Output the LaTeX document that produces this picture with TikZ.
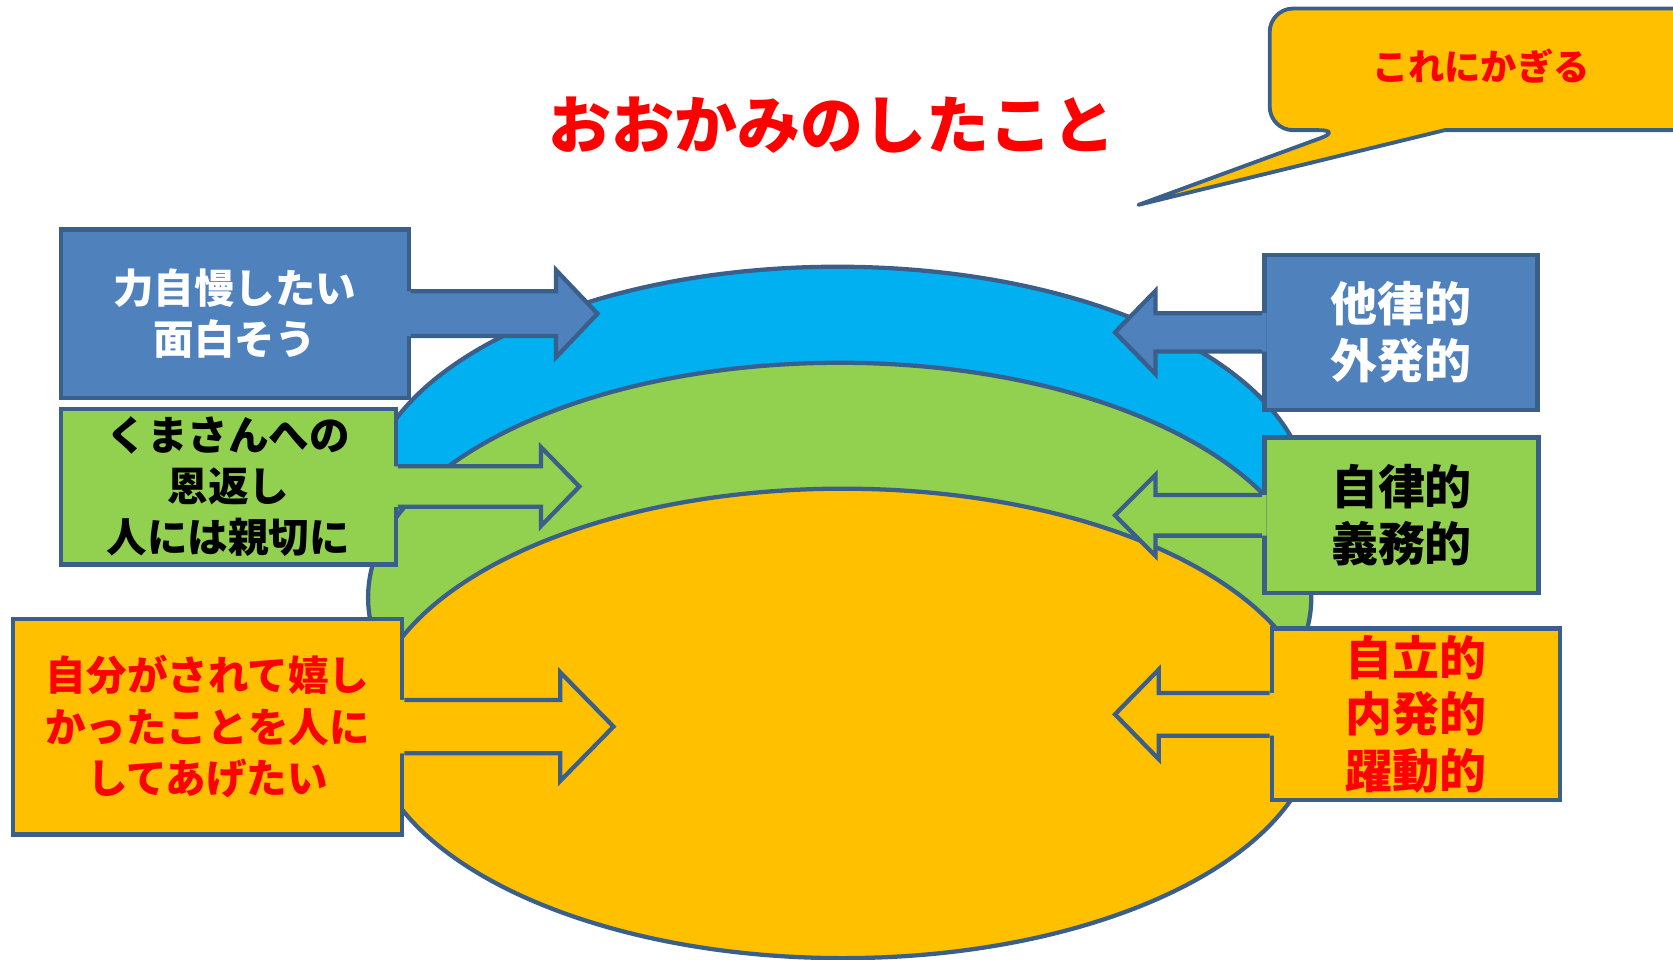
\documentclass[tikz,border=0pt]{standalone}
\usepackage{fontspec}
\setmainfont{Noto Sans CJK JP}
\usetikzlibrary{calc}
\definecolor{edgeblue}{HTML}{3A5F8B}
\definecolor{boxblue}{HTML}{4F81BD}
\definecolor{boxgreen}{HTML}{92D050}
\definecolor{boxorange}{HTML}{FFC000}
\definecolor{skyblue}{HTML}{00B0F0}
\definecolor{txtred}{HTML}{FF0000}
% right-pointing block arrow attached to the east side of node #1
% #2 shaft half width, #3 head half width, #4 shaft length, #5 head length, #6 fill
\newcommand{\RArr}[6]{%
  \fill[#6] ($(#1.east)+(-4,-#2)$) -- ($(#1.east)+(#4,-#2)$) -- ($(#1.east)+(#4,-#3)$)
    -- ($(#1.east)+(#4+#5,0)$) -- ($(#1.east)+(#4,#3)$) -- ($(#1.east)+(#4,#2)$)
    -- ($(#1.east)+(-4,#2)$) -- cycle;
  \draw[edge] ($(#1.east)+(0,-#2)$) -- ($(#1.east)+(#4,-#2)$) -- ($(#1.east)+(#4,-#3)$)
    -- ($(#1.east)+(#4+#5,0)$) -- ($(#1.east)+(#4,#3)$) -- ($(#1.east)+(#4,#2)$)
    -- ($(#1.east)+(0,#2)$);
}
% left-pointing block arrow attached to the west side of node #1
\newcommand{\LArr}[6]{%
  \fill[#6] ($(#1.west)+(4,-#2)$) -- ($(#1.west)+(-#4,-#2)$) -- ($(#1.west)+(-#4,-#3)$)
    -- ($(#1.west)+(-#4-#5,0)$) -- ($(#1.west)+(-#4,#3)$) -- ($(#1.west)+(-#4,#2)$)
    -- ($(#1.west)+(4,#2)$) -- cycle;
  \draw[edge] ($(#1.west)+(0,-#2)$) -- ($(#1.west)+(-#4,-#2)$) -- ($(#1.west)+(-#4,-#3)$)
    -- ($(#1.west)+(-#4-#5,0)$) -- ($(#1.west)+(-#4,#3)$) -- ($(#1.west)+(-#4,#2)$)
    -- ($(#1.west)+(0,#2)$);
}
\begin{document}
\begin{tikzpicture}[x=0.5pt,y=-0.5pt,
  edge/.style={draw=edgeblue,line width=2pt,line join=miter},
  ring/.style={draw=edgeblue,line width=2pt},
  box/.style={edge,rectangle,inner sep=0pt,align=center},
  lefttext/.style={font=\bfseries\fontsize{19}{24}\selectfont},
  righttext/.style={font=\bfseries\fontsize{22}{26.5}\selectfont}]
\useasboundingbox (0,0) rectangle (1568,899);
% stacked ellipses
\draw[ring,fill=skyblue] (785,470) ellipse [x radius=221pt,y radius=110pt];
\draw[ring,fill=boxgreen] (787,560) ellipse [x radius=221pt,y radius=110pt];
\draw[ring,fill=boxorange] (790,678) ellipse [x radius=222pt,y radius=110pt];
% left boxes
\node[box,lefttext,fill=boxblue,text=white,minimum width=163pt,minimum height=79pt] (lb1) at (220,294) {力自慢したい\\面白そう};
\RArr{lb1}{21}{41}{136}{39}{boxblue}
\node[box,lefttext,fill=boxgreen,text=black,minimum width=157pt,minimum height=73pt] (lb2) at (214,456) {くまさんへの\\恩返し\\人には親切に};
\RArr{lb2}{19}{37}{134}{36}{boxgreen}
\node[box,lefttext,fill=boxorange,text=txtred,minimum width=182.5pt,minimum height=101pt] (lb3) at (194.5,681) {自分がされて嬉し\\かったことを人に\\してあげたい};
\RArr{lb3}{25}{51}{146}{50}{boxorange}
% right boxes
\node[box,righttext,fill=boxblue,text=white,minimum width=128pt,minimum height=72.5pt] (rb1) at (1313,311.5) {他律的\\外発的};
\LArr{rb1}{18}{39}{100}{38}{boxblue}
\node[box,righttext,fill=boxgreen,text=black,minimum width=128.5pt,minimum height=73pt] (rb2) at (1313.5,483) {自律的\\義務的};
\LArr{rb2}{19}{38}{100}{38}{boxgreen}
\node[box,righttext,fill=boxorange,text=txtred,minimum width=135pt,minimum height=80.5pt] (rb3) at (1327,669.5) {自立的\\内発的\\躍動的};
\LArr{rb3}{20}{42}{104}{41}{boxorange}
% title
\node[text=txtred,font=\bfseries\fontsize{29.5}{34}\selectfont] (title) at (780,117) {おおかみのしたこと};
% callout
\draw[edgeblue,line width=1.8pt,fill=boxorange,line join=round]
  (1354,122) -- (1640,122) -- (1640,8) [rounded corners=11pt] -- (1190,8) -- (1190,122) -- (1258,122)
  [sharp corners] -- (1067,192) -- cycle;
\node[text=txtred,font=\bfseries\fontsize{17}{20}\selectfont] (calltext) at (1388,62) {これにかぎる};
\end{tikzpicture}
\end{document}
